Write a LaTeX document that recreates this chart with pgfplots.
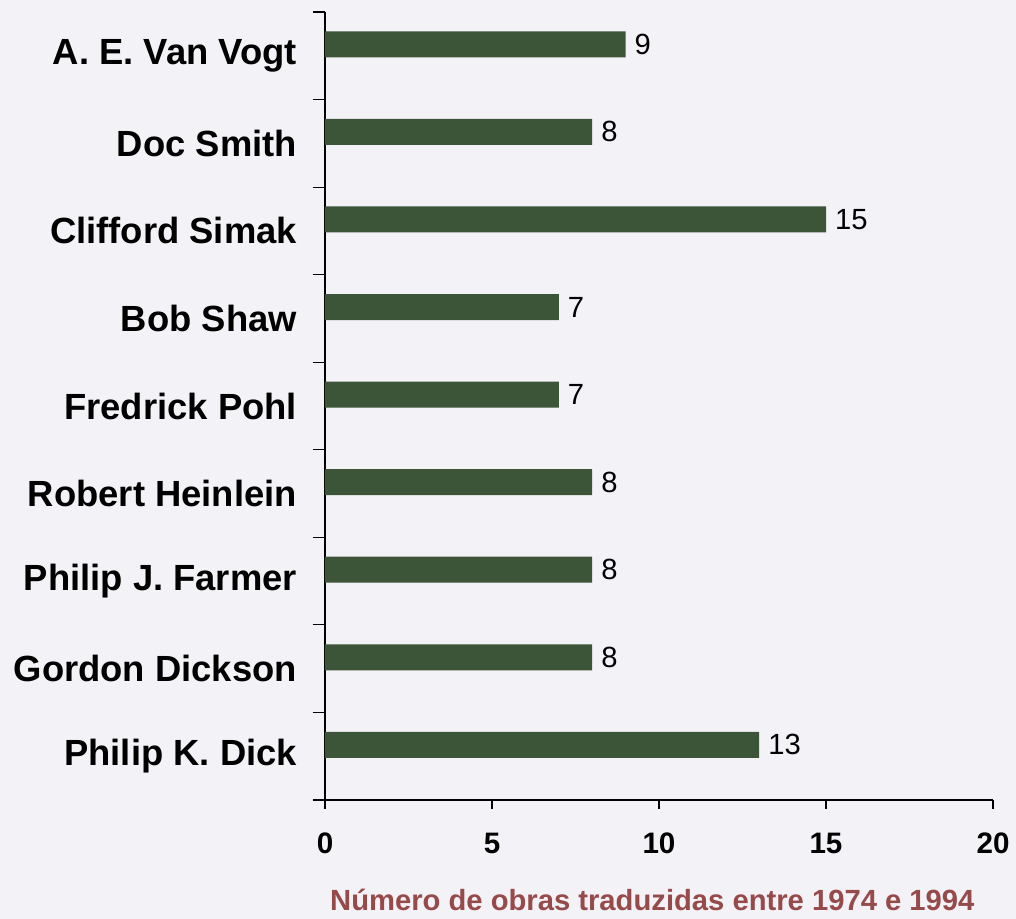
\documentclass[border=0pt]{standalone}
\usepackage{fontspec}
\setmainfont{Liberation Sans}
\usepackage{pgfplots}
\pgfplotsset{compat=1.18}
\definecolor{barcol}{RGB}{60,84,56}
\definecolor{labcol}{RGB}{150,74,74}
\definecolor{bgcol}{RGB}{243,242,247}
\begin{document}
\begin{tikzpicture}
\path[use as bounding box, fill=bgcol] (-162.5pt,-59.5pt) rectangle (345.5pt,400pt);
\begin{axis}[
  at={(0,0)}, anchor=south west,
  scale only axis, width=334pt, height=394pt,
  xmin=0, xmax=20, ymin=-0.5, ymax=8.5,
  axis lines*=left,
  axis line style={black, line width=0.6pt},
  tick align=outside,
  major tick length=4.5pt,
  minor tick length=6pt,
  xtick={0,5,10,15,20},
  ytick={0,...,8},
  yticklabels={Philip K. Dick, Gordon Dickson, Philip J. Farmer, Robert Heinlein, Fredrick Pohl, Bob Shaw, Clifford Simak, Doc Smith, A. E. Van Vogt},
  minor ytick={-0.5,0.5,...,8.5},
  ytick style={draw=none},
  minor y tick style={draw=black, line width=0.6pt},
  xtick style={black, line width=0.6pt},
  /pgf/number format/assume math mode=true,
  xticklabel style={font=\fontsize{14.8}{16}\selectfont\bfseries, yshift=-8.5pt},
  yticklabel style={font=\fontsize{18.2}{20}\selectfont\bfseries, xshift=-6pt},
  xlabel={Número de obras traduzidas entre 1974 e 1994},
  xlabel style={font=\fontsize{14.6}{16}\selectfont\bfseries, text=labcol, at={(axis description cs:0.49,0)}, anchor=center, yshift=-50pt},
  clip=false,
]
\addplot[xbar, bar width=13pt, fill=barcol, draw=none,
  point meta=x,
  nodes near coords,
  nodes near coords style={anchor=west, xshift=1pt, font=\fontsize{14.6}{16}\selectfont, text=black, /pgf/number format/assume math mode=true}]
  coordinates {
  (13,0.13) (8,1.13) (8,2.13) (8,3.13) (7,4.13) (7,5.13) (15,6.13) (8,7.13) (9,8.13)
  };
\end{axis}
\end{tikzpicture}
\end{document}
